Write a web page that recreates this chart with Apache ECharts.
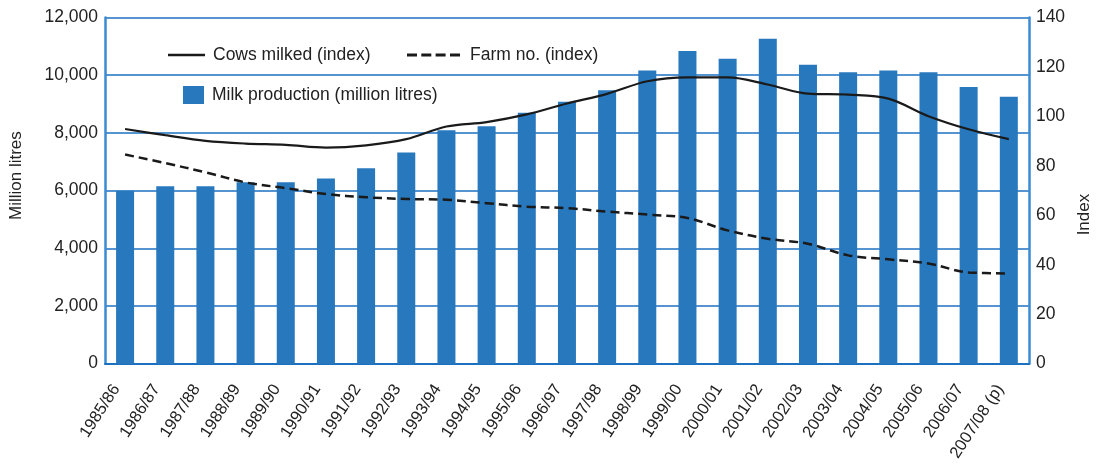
<!DOCTYPE html>
<html>
<head>
<meta charset="utf-8">
<script src="https://cdn.jsdelivr.net/npm/echarts@6/dist/echarts.min.js"></script>
<style>
html,body{margin:0;padding:0;background:#fff;}
#chart{width:1101px;height:464px;}
</style>
</head>
<body>
<div id="chart"></div>
<script>
const categories = ['1985/86','1986/87','1987/88','1988/89','1989/90','1990/91','1991/92','1992/93','1993/94','1994/95','1995/96','1996/97','1997/98','1998/99','1999/00','2000/01','2001/02','2002/03','2003/04','2004/05','2005/06','2006/07','2007/08 (p)'];
const milkProduction = [5990,6150,6150,6290,6290,6420,6770,7320,8090,8230,8700,9080,9480,10160,10840,10570,11260,10360,10100,10160,10100,9590,9250];
const cowsMilked = [94.9,92.4,90.1,89.0,88.5,87.4,88.3,90.8,95.9,97.7,100.8,105.2,109.1,114.2,115.8,115.8,112.9,109.2,108.8,107.2,100.1,94.8,90.8];
const farmNo = [84.6,81.1,77.4,73.3,71.0,68.6,67.3,66.6,66.3,64.9,63.5,62.9,61.5,60.3,58.9,53.9,50.5,48.5,43.8,42.2,40.5,36.9,36.5];
const leftTicks = {min:0, max:12000, interval:2000};
const rightTicks = {min:0, max:140, interval:20};
const names = {bar:'Milk production (million litres)', cows:'Cows milked (index)', farm:'Farm no. (index)', left:'Million litres', right:'Index'};

const FONT = '"Liberation Sans", Arial, sans-serif';
const TXT = '#222';
const BLUE = '#2878be';
const GRID = '#1c70c0';
const DASH_ICON = 'path://M0,0h10v3h-10z M14.3,0h10v3h-10z M28.6,0h10v3h-10z M43,0h10v3h-10z';

const chart = echarts.init(document.getElementById('chart'), null, {renderer:'canvas'});
chart.setOption({
  animation:false,
  backgroundColor:'#fff',
  textStyle:{fontFamily:FONT},
  grid:{left:105, right:69, top:17.5, bottom:98, containLabel:false},
  legend:[
    {data:[{name:names.cows, icon:'rect'}], left:168, top:46, padding:0, itemWidth:37, itemHeight:2.5,
     textStyle:{fontFamily:FONT, fontSize:17.5, color:TXT, padding:[0,0,0,3]}, selectedMode:false},
    {data:[{name:names.farm, icon:DASH_ICON}], left:407, top:46, padding:0, itemWidth:53, itemHeight:3,
     symbolKeepAspect:false,
     textStyle:{fontFamily:FONT, fontSize:17.5, color:TXT, padding:[0,0,0,5]}, selectedMode:false},
    {data:[{name:names.bar, icon:'rect'}], left:183, top:86, padding:0, itemWidth:21, itemHeight:18,
     textStyle:{fontFamily:FONT, fontSize:17.5, color:TXT, padding:[0,0,0,3]}, selectedMode:false}
  ],
  xAxis:{
    type:'category', data:categories,
    axisLine:{show:true, lineStyle:{color:GRID, width:2}},
    axisTick:{show:false},
    axisLabel:{rotate:57, color:TXT, fontSize:16.5, fontFamily:FONT, margin:9, interval:0, padding:[0,16,0,0]}
  },
  yAxis:[
    {type:'value', min:leftTicks.min, max:leftTicks.max, interval:leftTicks.interval,
     name:names.left, nameLocation:'middle', nameRotate:90, nameGap:80,
     nameTextStyle:{color:TXT, fontSize:17, fontFamily:FONT, padding:[0,0,0,30]},
     axisLine:{show:true, lineStyle:{color:'#3a8ad4', width:2.5}},
     axisTick:{show:false},
     axisLabel:{color:TXT, fontSize:17.5, fontFamily:FONT, margin:7,
       formatter:v=>v.toLocaleString('en-US')},
     splitLine:{show:true, lineStyle:{color:GRID, width:1.6}}
    },
    {type:'value', min:rightTicks.min, max:rightTicks.max, interval:rightTicks.interval, position:'right',
     name:names.right, nameLocation:'middle', nameRotate:90, nameGap:44,
     nameTextStyle:{color:TXT, fontSize:17, fontFamily:FONT, padding:[0,48,0,0]},
     axisLine:{show:true, lineStyle:{color:'#3a8ad4', width:2.5}},
     axisTick:{show:false},
     axisLabel:{color:TXT, fontSize:17.5, fontFamily:FONT, margin:7},
     splitLine:{show:false}
    }
  ],
  series:[
    {name:names.bar, type:'bar', data:milkProduction, yAxisIndex:0, barWidth:18,
     itemStyle:{color:BLUE}, z:2},
    {name:names.cows, type:'line', data:cowsMilked, yAxisIndex:1, symbol:'none', smooth:0.35,
     lineStyle:{color:'#1a1a1a', width:2.2}, itemStyle:{color:'#1a1a1a'}, z:5},
    {name:names.farm, type:'line', data:farmNo, yAxisIndex:1, symbol:'none', smooth:0.35,
     lineStyle:{color:'#1a1a1a', width:2.5, type:[9,5]}, itemStyle:{color:'#1a1a1a'}, z:5}
  ]
});
</script>
</body>
</html>
